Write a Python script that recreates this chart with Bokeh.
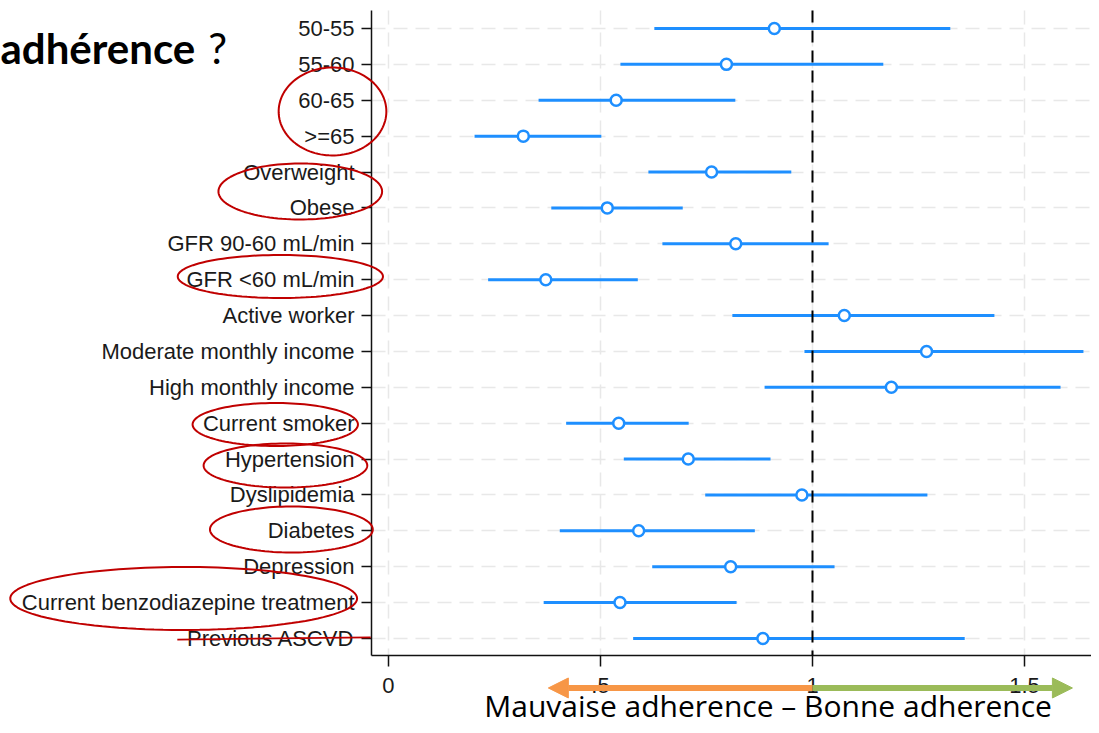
import numpy as np
from bokeh.plotting import figure
from bokeh.models import (Range1d, FixedTicker, Label, Arrow, NormalHead,
                          PolyAnnotation, ColumnDataSource)
from bokeh.embed import file_html
from bokeh.resources import INLINE

# ---------------- data ----------------
categories = ["50-55", "55-60", "60-65", ">=65", "Overweight", "Obese",
              "GFR 90-60 mL/min", "GFR <60 mL/min", "Active worker",
              "Moderate monthly income", "High monthly income", "Current smoker",
              "Hypertension", "Dyslipidemia", "Diabetes", "Depression",
              "Current benzodiazepine treatment", "Previous ASCVD"]
estimate = [0.910, 0.797, 0.537, 0.318, 0.762, 0.516, 0.819, 0.371, 1.075,
            1.269, 1.186, 0.543, 0.707, 0.975, 0.590, 0.807, 0.546, 0.883]
ci_low = [0.627, 0.547, 0.354, 0.203, 0.613, 0.384, 0.646, 0.235, 0.811,
          0.981, 0.887, 0.419, 0.555, 0.747, 0.404, 0.622, 0.366, 0.577]
ci_high = [1.325, 1.167, 0.818, 0.502, 0.950, 0.694, 1.038, 0.588, 1.429,
           1.639, 1.585, 0.708, 0.901, 1.271, 0.864, 1.052, 0.821, 1.359]
x_ticks = [0, 0.5, 1, 1.5]
x_tick_labels = ["0", ".5", "1", "1.5"]

rows = list(range(len(categories)))
src = ColumnDataSource(dict(row=rows, est=estimate, lo=ci_low, hi=ci_high))

BLUE = "#1E8FFF"
X_LO, X_HI = -0.915, 1.658      # whole canvas
Y_BOT, Y_TOP = 19.426, -0.780
PLOT_X = (-0.040, X_HI)         # plotting region bounds
PLOT_Y = (-0.5, 17.47)

p = figure(width=1091, height=725, output_backend="svg", toolbar_location=None,
           x_range=Range1d(X_LO, X_HI), y_range=Range1d(Y_BOT, Y_TOP),
           min_border=0)
p.outline_line_color = None
p.background_fill_color = "white"
p.border_fill_color = "white"

# axes drawn at fixed positions inside the canvas
p.xaxis.fixed_location = PLOT_Y[1]
p.yaxis.fixed_location = PLOT_X[0]
p.xaxis.bounds = PLOT_X
p.yaxis.bounds = PLOT_Y
p.xaxis.ticker = FixedTicker(ticks=x_ticks)
p.xaxis.major_label_overrides = {t: l for t, l in zip(x_ticks, x_tick_labels)}
p.yaxis.ticker = FixedTicker(ticks=rows)
p.yaxis.major_label_overrides = {r: c for r, c in zip(rows, categories)}
for ax in (p.xaxis, p.yaxis):
    ax.axis_line_color = "#111111"
    ax.axis_line_width = 1.5
    ax.major_tick_line_color = "#111111"
    ax.major_tick_line_width = 1.5
    ax.major_tick_in = 0
    ax.minor_tick_line_color = None
    ax.major_label_text_font = "Liberation Sans"
    ax.major_label_text_font_size = "22px"
    ax.major_label_text_color = "#1a1a1a"
p.xaxis.major_tick_out = 11
p.xaxis.major_label_standoff = 12
p.yaxis.major_tick_out = 10
p.yaxis.major_label_standoff = 7

# grids
p.xgrid.ticker = FixedTicker(ticks=x_ticks)
p.ygrid.ticker = FixedTicker(ticks=rows)
p.xgrid.cross_bounds = PLOT_Y
p.ygrid.cross_bounds = PLOT_X
for g in (p.xgrid, p.ygrid):
    g.grid_line_color = "#e8e8e8"
    g.grid_line_width = 1.5
    g.grid_line_dash = "14 8"

# data marks
p.segment(x0="lo", x1="hi", y0="row", y1="row", source=src,
          line_color=BLUE, line_width=3)
p.scatter(x="est", y="row", source=src, marker="circle", size=11,
          fill_color="white", line_color=BLUE, line_width=2.5)

# reference line at 1
p.add_layout(Arrow(start=None, end=None, x_start=1, y_start=PLOT_Y[0],
                   x_end=1, y_end=PLOT_Y[1], line_color="black",
                   line_width=2, line_dash="12 8"))

# red ellipses (annotation), in data units: cx, cy, rx, ry
ellipses = [(-0.132, 2.313, 0.127, 1.226),
            (-0.208, 4.543, 0.193, 0.780),
            (-0.255, 6.912, 0.242, 0.599),
            (-0.267, 11.037, 0.195, 0.599),
            (-0.243, 12.180, 0.193, 0.613),
            (-0.229, 13.963, 0.192, 0.641),
            (-0.483, 15.886, 0.409, 0.878)]
t = np.linspace(0, 2 * np.pi, 120)
RED = "#C00000"
for cx, cy, rx, ry in ellipses:
    p.add_layout(PolyAnnotation(xs=list(cx + rx * np.cos(t)), ys=list(cy + ry * np.sin(t)),
                                xs_units="data", ys_units="data",
                                fill_alpha=0, line_alpha=1, line_color=RED, line_width=2))
p.add_layout(Arrow(end=None, start=None, x_start=-0.498, y_start=17.03,
                   x_end=-0.042, y_end=16.97, line_color=RED, line_width=1.8))

# direction arrows below axis
ORANGE = "#F79646"
GREEN = "#9BBB59"
p.add_layout(Arrow(end=NormalHead(size=20, fill_color=ORANGE, line_color=ORANGE),
                   x_start=1.0, y_start=18.38, x_end=0.377, y_end=18.38,
                   line_color=ORANGE, line_width=6))
p.add_layout(Arrow(end=NormalHead(size=20, fill_color=GREEN, line_color=GREEN),
                   x_start=1.0, y_start=18.38, x_end=1.613, y_end=18.38,
                   line_color=GREEN, line_width=6))

p.add_layout(Label(x=0.226, y=18.87, text="Mauvaise adherence \u2013 Bonne adherence",
                   text_font="Open Sans", text_font_size="30px", text_color="black",
                   text_baseline="middle", text_align="left"))

# title fragment
p.add_layout(Label(x=-0.915, y=0.557, text="adh\u00e9rence", text_font="Lato",
                   text_font_style="bold", text_font_size="42px", text_color="black",
                   text_baseline="middle", text_align="left"))
p.add_layout(Label(x=-0.425, y=0.557, text="?", text_font="Lato",
                   text_font_size="42px", text_color="black",
                   text_baseline="middle", text_align="left"))

open("out.html", "w").write(file_html(p, INLINE))
